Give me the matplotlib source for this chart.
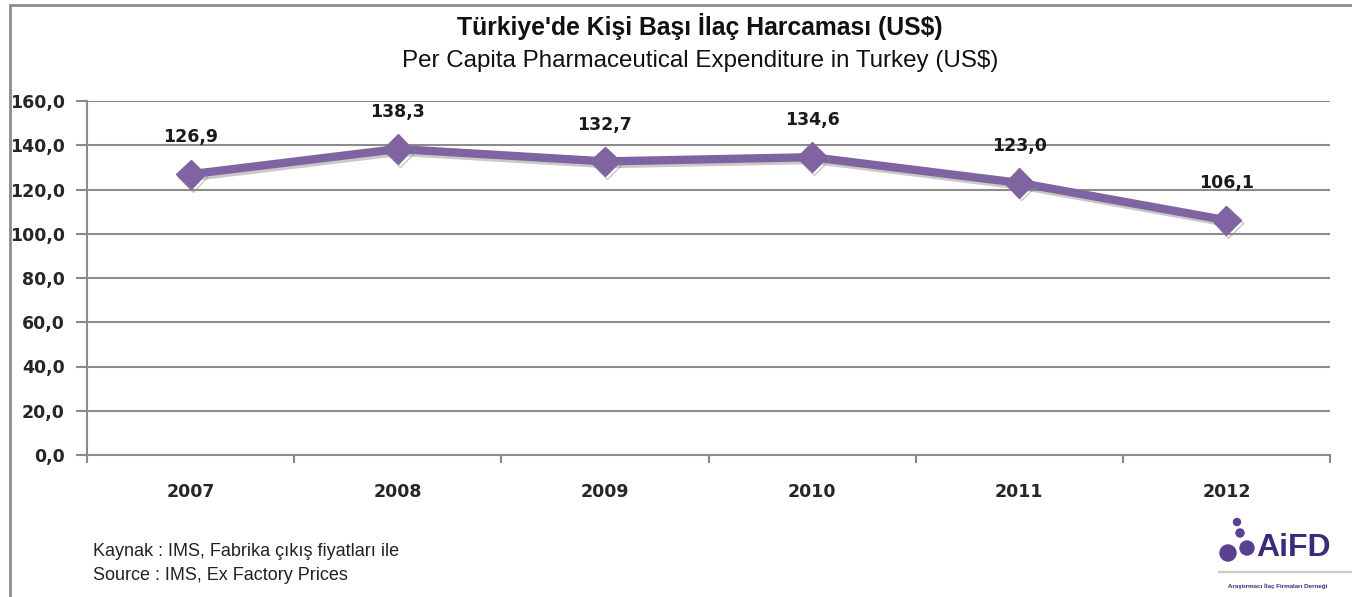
import matplotlib
matplotlib.use("Agg")
import matplotlib.pyplot as plt
import matplotlib.patheffects as pe
from matplotlib.patches import Rectangle, Ellipse
import numpy as np

years = ["2007", "2008", "2009", "2010", "2011", "2012"]
values = [126.9, 138.3, 132.7, 134.6, 123.0, 106.1]
value_labels = ["126,9", "138,3", "132,7", "134,6", "123,0", "106,1"]
yticks = [0, 20, 40, 60, 80, 100, 120, 140, 160]
ytick_labels = ["0,0", "20,0", "40,0", "60,0", "80,0", "100,0", "120,0", "140,0", "160,0"]

title_tr = "Türkiye'de Kişi Başı İlaç Harcaması (US$)"
title_en = "Per Capita Pharmaceutical Expenditure in Turkey (US$)"
source_tr = "Kaynak : IMS, Fabrika çıkış fiyatları ile"
source_en = "Source : IMS, Ex Factory Prices"

W, H = 1352, 597
fig = plt.figure(figsize=(W / 100, H / 100), dpi=100)
fig.patch.set_facecolor("white")

# outer border
fig.add_artist(Rectangle((10 / W, -0.1), 1.2, 1 - 5 / H + 0.1, transform=fig.transFigure,
                         fill=False, edgecolor="#8c8c8c", linewidth=2))

ax = fig.add_axes([87 / W, 1 - 455 / H, (1330 - 87) / W, (455 - 101) / H])
x = np.arange(len(years))
purple = "#8064A2"

ax.plot(x, values, color=purple, linewidth=6, marker="D", markersize=15,
        markeredgecolor=purple, zorder=5, solid_capstyle="round",
        path_effects=[pe.SimpleLineShadow(offset=(1.5, -2), shadow_color="#888888", alpha=0.45),
                      pe.Normal()])

for xi, v, lab in zip(x, values, value_labels):
    ax.annotate(lab, (xi, v), xytext=(0, 20), textcoords="offset points",
                ha="center", va="bottom", fontsize=12.5, fontweight="bold",
                color="#1a1a1a", family="DejaVu Sans")

ax.set_xlim(-0.5, len(years) - 0.5)
ax.set_ylim(0, 160)
ax.set_yticks(yticks)
ax.set_yticklabels(ytick_labels)
ax.set_xticks(x)
ax.set_xticklabels(years)
ax.set_xticks(np.arange(-0.5, len(years) + 0.5, 1), minor=True)
ax.tick_params(axis="x", which="major", length=0, pad=20)
ax.tick_params(axis="x", which="minor", length=6, color="#888888", width=1.5, direction="out")
ax.tick_params(axis="y", length=8, color="#888888", width=1.5, pad=8)
for lab in ax.get_xticklabels() + ax.get_yticklabels():
    lab.set_fontweight("bold")
    lab.set_fontsize(12.5)
    lab.set_color("#262626")

ax.grid(axis="y", color="#8c8c8c", linewidth=1.5)
ax.set_axisbelow(True)
for s in ["top", "right"]:
    ax.spines[s].set_visible(False)
ax.spines["left"].set_color("#8c8c8c")
ax.spines["left"].set_linewidth(1.5)
ax.spines["bottom"].set_color("#8c8c8c")
ax.spines["bottom"].set_linewidth(1.5)

fig.text(700 / W, 1 - 27 / H, title_tr, ha="center", va="center", fontsize=17.8,
         fontweight="bold", family="Liberation Sans", color="#111111")
fig.text(700 / W, 1 - 61 / H, title_en, ha="center", va="center", fontsize=17.4,
         family="Liberation Sans", color="#111111")

fig.text(93 / W, 1 - 551 / H, source_tr, ha="left", va="center", fontsize=13,
         family="Liberation Sans", color="#222222")
fig.text(93 / W, 1 - 575 / H, source_en, ha="left", va="center", fontsize=13,
         family="Liberation Sans", color="#222222")

# logo
fig.text(1256 / W, 1 - 548 / H, "AiFD", ha="left", va="center", fontsize=23,
         fontweight="bold", family="Liberation Sans", color="#3d2b7a")
for cx, cy, r in [(1228, 553, 8), (1247, 548, 7), (1240, 533, 4), (1237, 522, 3.5)]:
    fig.add_artist(Ellipse((cx / W, 1 - cy / H), 2 * r / W, 2 * r / H, transform=fig.transFigure,
                           color="#5b3f90", zorder=5))
fig.add_artist(Rectangle((1218 / W, 1 - 572 / H), 134 / W, 1 / H, transform=fig.transFigure,
                         color="#cccccc"))
fig.text(1228 / W, 1 - 586 / H, "Araştırmacı İlaç Firmaları Derneği", ha="left", va="center",
         fontsize=4.5, fontweight="bold", family="Liberation Sans", color="#3d2b7a")

fig.savefig("out.png", dpi=100, facecolor="white")
